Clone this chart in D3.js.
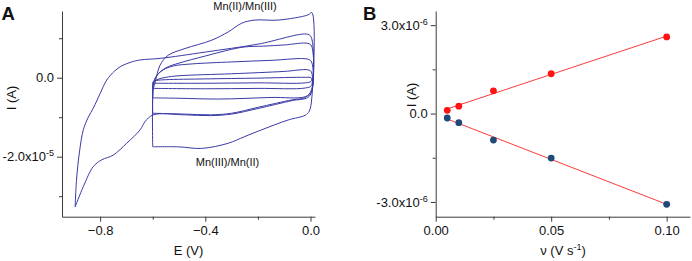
<!DOCTYPE html>
<html>
<head>
<meta charset="utf-8">
<script src="https://cdn.jsdelivr.net/npm/d3@7"></script>
<style>
  html, body { margin: 0; padding: 0; background: #fff; }
  svg text { font-family: Arial, "Liberation Sans", sans-serif; fill: #111; }
  .axis path, .axis line { stroke: #3a3a3a; }
</style>
</head>
<body>
<svg id="chart" width="692" height="261"></svg>
<script>
// ── Panel A: cyclic voltammograms, E (V) vs I (×1e-5 A) ─────────────────
const cv005 = [[-0.6,-0.14],[-0.598,-0.1],[-0.585,-0.07],[-0.55,-0.05],[-0.4,-0.03],[-0.2,-0.01],[-0.02,0.01],[0.002,0.0],
  [0.002,-0.09],[-0.02,-0.13],[-0.2,-0.13],[-0.4,-0.14],[-0.6,-0.14]];
const cv010 = [[-0.6,-0.27],[-0.598,-0.12],[-0.58,-0.04],[-0.55,0.01],[-0.5,0.05],[-0.3,0.1],[-0.1,0.16],[-0.01,0.2],[0.003,0.15],
  [0.003,-0.2],[-0.02,-0.26],[-0.2,-0.27],[-0.4,-0.28],[-0.6,-0.27]];
const cv025 = [[-0.6,-0.51],[-0.598,-0.15],[-0.585,0.05],[-0.56,0.2],[-0.52,0.3],[-0.45,0.35],[-0.3,0.4],[-0.15,0.44],[-0.01,0.47],[0.004,0.4],
  [0.004,-0.35],[-0.02,-0.48],[-0.15,-0.5],[-0.35,-0.54],[-0.5,-0.52],[-0.6,-0.51]];
const cv050 = [[-0.6,-0.9],[-0.598,-0.2],[-0.585,0.05],[-0.55,0.25],[-0.5,0.37],[-0.4,0.55],[-0.3,0.72],[-0.25,0.78],[-0.18,0.8],[-0.1,0.83],[-0.01,0.87],[0.004,0.8],
  [0.004,-0.3],[-0.02,-0.5],[-0.07,-0.56],[-0.2,-0.75],[-0.3,-0.9],[-0.38,-0.94],[-0.48,-0.92],[-0.6,-0.9]];
const cv100 = [[-0.6,-1.75],[-0.598,-0.3],[-0.59,-0.1],[-0.572,0.32],[-0.541,0.57],[-0.477,0.74],[-0.376,0.95],[-0.313,1.16],[-0.262,1.38],[-0.212,1.46],[-0.123,1.46],[-0.01,1.59],[0.005,1.65],
  [0.005,-0.5],[-0.005,-0.85],[-0.02,-0.95],[-0.085,-1.07],[-0.186,-1.32],[-0.25,-1.49],[-0.313,-1.66],[-0.414,-1.79],[-0.503,-1.75],[-0.6,-1.75]];
const cvWide = [[-0.895,-3.27],[-0.89,-2.6],[-0.878,-1.85],[-0.864,-1.32],[-0.845,-1.0],[-0.826,-0.77],[-0.8,-0.4],[-0.775,-0.06],[-0.745,0.17],[-0.718,0.3],[-0.68,0.4],[-0.648,0.45],[-0.572,0.49],[-0.4,0.65],[-0.2,0.85],[-0.01,1.1],[0.004,1.0],
  [0.004,-0.35],[-0.01,-0.5],[-0.07,-0.58],[-0.2,-0.78],[-0.3,-0.92],[-0.38,-0.96],[-0.48,-0.94],[-0.598,-0.94],[-0.629,-1.11],[-0.648,-1.32],[-0.699,-1.66],[-0.75,-1.96],[-0.794,-2.08],[-0.826,-2.25],[-0.864,-2.76],[-0.895,-3.27]];
const cvLoops = [cv005, cv010, cv025, cv050, cv100, cvWide];
const cvUnit = 1e-5;

const xTicksA = [-0.8, -0.4, 0.0];
const xMinorA = [-0.6, -0.2];
const yTicksA = [0, -2e-5];
const yMinorA = [1e-5, -1e-5, -3e-5];

// ── Panel B: peak current vs scan rate ──────────────────────────────────
const scanRates = [0.005, 0.01, 0.025, 0.05, 0.1];
const anodicI   = [0.11e-6, 0.25e-6, 0.77e-6, 1.35e-6, 2.6e-6];
const cathodicI = [-0.15e-6, -0.31e-6, -0.9e-6, -1.51e-6, -3.08e-6];

const xTicksB = [0, 0.05, 0.10];
const xMinorB = [0.025, 0.075];
const yTicksB = [3e-6, 0, -3e-6];
const yMinorB = [1.5e-6, -1.5e-6];

const svg = d3.select('#chart');

// superscript-style label "m.mx10^e"
function sciLabel(sel, fmt) {
  sel.each(function(d) {
    const t = d3.select(this).text('');
    if (d === 0) { t.text(fmt(0)); return; }
    const e = Math.floor(Math.log10(Math.abs(d)) + 1e-9);
    t.append('tspan').text(fmt(d / Math.pow(10, e)) + 'x10');
    t.append('tspan').attr('font-size', '9px').attr('dy', '-0.55em').text(String(e));
  });
}

function drawAxes(g, x, y, opt) {
  const bottomY = y.range()[0], leftX = x.range()[0];
  g.append('g').attr('class', 'axis').attr('transform', `translate(0,${bottomY})`)
    .call(d3.axisBottom(x).tickValues(opt.xTicks).tickSize(5).tickPadding(4).tickSizeOuter(0).tickFormat(opt.xFmt));
  g.append('g').attr('class', 'axis').attr('transform', `translate(0,${bottomY})`)
    .call(d3.axisBottom(x).tickValues(opt.xMinor).tickSize(3).tickSizeOuter(0).tickFormat(''))
    .select('.domain').remove();
  const ya = g.append('g').attr('class', 'axis').attr('transform', `translate(${leftX},0)`)
    .call(d3.axisLeft(y).tickValues(opt.yTicks).tickSize(5).tickPadding(3).tickSizeOuter(0));
  g.append('g').attr('class', 'axis').attr('transform', `translate(${leftX},0)`)
    .call(d3.axisLeft(y).tickValues(opt.yMinor).tickSize(3).tickSizeOuter(0).tickFormat(''))
    .select('.domain').remove();
  g.selectAll('.axis text').attr('font-size', '13px').attr('fill', '#111')
    .attr('font-family', 'Arial, "Liberation Sans", sans-serif');
  ya.selectAll('.tick text').call(sciLabel, v => v.toFixed(1));
}

// ── Panel A ─────────────────────────────────────────────────────────────
const xA = d3.scaleLinear().domain([-0.945, 0.017]).range([62, 315]);
const yA = d3.scaleLinear().domain([-3.52e-5, 1.69e-5]).range([216.7, 11]);
const gA = svg.append('g');

drawAxes(gA, xA, yA, { xTicks: xTicksA, xMinor: xMinorA, yTicks: yTicksA, yMinor: yMinorA, xFmt: d3.format('.1f') });

const cvLine = d3.line()
  .x(d => xA(d[0]))
  .y(d => yA(d[1] * cvUnit))
  .curve(d3.curveCatmullRom.alpha(0.5));

gA.append('g').selectAll('path').data(cvLoops).join('path')
  .attr('d', cvLine)
  .attr('fill', 'none')
  .attr('stroke', '#3a3aa6')
  .attr('stroke-width', 1);

gA.append('text').attr('x', 245).attr('y', 9.5).attr('text-anchor', 'middle')
  .attr('font-size', '11px').text('Mn(II)/Mn(III)');
gA.append('text').attr('x', 227.5).attr('y', 165.5).attr('text-anchor', 'middle')
  .attr('font-size', '11px').text('Mn(III)/Mn(II)');

gA.append('text').attr('x', 188.5).attr('y', 255).attr('text-anchor', 'middle')
  .attr('font-size', '13px').text('E (V)');
gA.append('text').attr('transform', 'translate(16,98) rotate(-90)').attr('text-anchor', 'middle')
  .attr('font-size', '13px').text('I (A)');
gA.append('text').attr('x', 1.5).attr('y', 20).attr('font-size', '18.5px').attr('font-weight', 'bold').text('A');

// ── Panel B ─────────────────────────────────────────────────────────────
const xB = d3.scaleLinear().domain([0, 0.1101]).range([435.7, 690]);
const yB = d3.scaleLinear().domain([-3.5e-6, 3.48e-6]).range([216.7, 11]);
const gB = svg.append('g');

drawAxes(gB, xB, yB, { xTicks: xTicksB, xMinor: xMinorB, yTicks: yTicksB, yMinor: yMinorB, xFmt: d3.format('.2f') });

function linFit(xs, ys) {
  const mx = d3.mean(xs), my = d3.mean(ys);
  const sxy = d3.sum(xs, (x, i) => (x - mx) * (ys[i] - my));
  const sxx = d3.sum(xs, x => (x - mx) * (x - mx));
  const k = sxy / sxx;
  return x => my + k * (x - mx);
}

const series = [
  { vals: anodicI,   color: '#ff1414' },
  { vals: cathodicI, color: '#1d4a78' },
];

const fitExt = d3.extent(scanRates);
series.forEach(s => {
  const f = linFit(scanRates, s.vals);
  gB.append('line')
    .attr('x1', xB(fitExt[0])).attr('y1', yB(f(fitExt[0])))
    .attr('x2', xB(fitExt[1])).attr('y2', yB(f(fitExt[1])))
    .attr('stroke', '#ff3a3a').attr('stroke-width', 1);
});
series.forEach(s => {
  gB.append('g').selectAll('circle').data(scanRates).join('circle')
    .attr('cx', d => xB(d))
    .attr('cy', (d, i) => yB(s.vals[i]))
    .attr('r', 3.4)
    .attr('fill', s.color);
});

const xt = gB.append('text').attr('x', 563).attr('y', 255).attr('text-anchor', 'middle').attr('font-size', '13px');
xt.append('tspan').text('\u03bd (V s');
xt.append('tspan').attr('font-size', '9px').attr('dy', '-0.55em').text('-1');
xt.append('tspan').attr('dy', '0.4em').text(')');
gB.append('text').attr('transform', 'translate(416,95) rotate(-90)').attr('text-anchor', 'middle')
  .attr('font-size', '13px').text('I (A)');
gB.append('text').attr('x', 363).attr('y', 20).attr('font-size', '18.5px').attr('font-weight', 'bold').text('B');
</script>
</body>
</html>
